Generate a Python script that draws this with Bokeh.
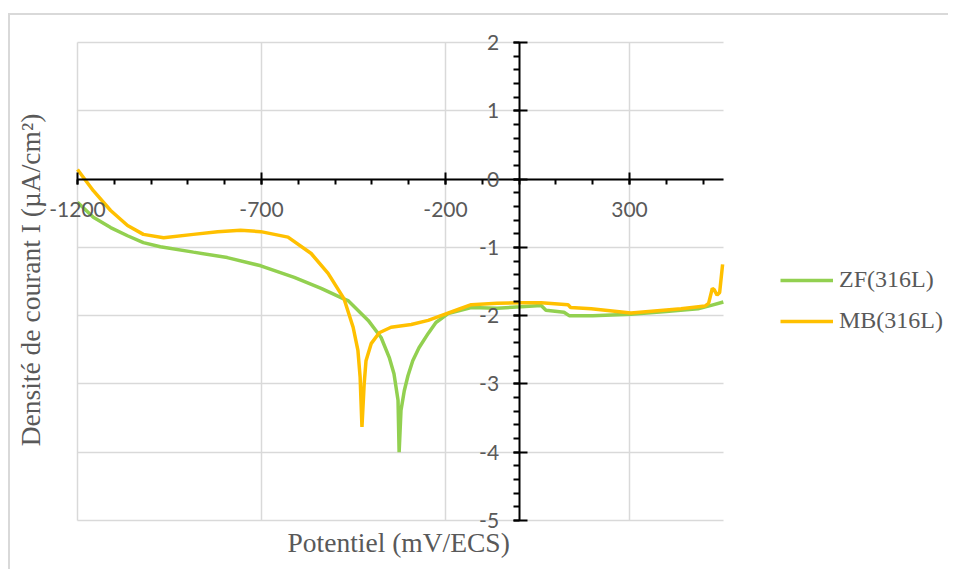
import numpy as np
from bokeh.plotting import figure
from bokeh.models import FixedTicker, Legend, LegendItem, Title
from bokeh.embed import file_html
from bokeh.resources import INLINE

# ---- data ----
zf_x = [-1200, -1157, -1110, -1064, -1021, -975, -885, -793, -702, -611, -538, -478,
        -465, -410, -375, -353, -340, -329, -326, -321, -312, -302, -289, -272, -247,
        -226, -193, -130, -60, 5, 60, 73, 122, 136, 200, 304, 400, 486, 522, 555]
zf_y = [-0.34, -0.56, -0.71, -0.83, -0.93, -0.99, -1.07, -1.15, -1.27, -1.44, -1.60, -1.75,
        -1.78, -2.07, -2.32, -2.61, -2.85, -3.24, -4.00, -3.39, -3.10, -2.88, -2.66, -2.47, -2.26,
        -2.10, -1.97, -1.88, -1.89, -1.87, -1.85, -1.92, -1.95, -2.00, -2.00, -1.98, -1.94, -1.90, -1.85, -1.80]

mb_x = [-1200, -1157, -1110, -1064, -1021, -966, -885, -819, -757, -702, -628, -565, -519,
        -476, -451, -438, -432, -427, -421, -416, -402, -380, -348, -293, -247, -212, -166,
        -130, -60, 5, 60, 133, 140, 196, 304, 440, 505, 515, 525, 530, 538, 545, 553]
mb_y = [0.14, -0.17, -0.46, -0.68, -0.81, -0.86, -0.81, -0.77, -0.75, -0.77, -0.85, -1.09, -1.38,
        -1.75, -2.17, -2.51, -2.90, -3.63, -3.00, -2.66, -2.41, -2.25, -2.17, -2.13, -2.07, -2.00, -1.91,
        -1.84, -1.82, -1.81, -1.81, -1.84, -1.88, -1.90, -1.96, -1.90, -1.86, -1.82, -1.60, -1.62, -1.70, -1.66, -1.25]

x_min, x_max = -1200, 555
y_min, y_max = -5, 2
x_major = [-1200, -700, -200, 300]
y_major = [-5, -4, -3, -2, -1, 0, 1, 2]
series_names = ["ZF(316L)", "MB(316L)"]
x_title = "Potentiel  (mV/ECS)"
y_title = "Densité de courant I (µA/cm²)"

GRID = "#d9d9d9"
TXT = "#595959"

# pixel scale of the reference plot area
px_per_mv = 552 / 1500.0
px_per_unit = 478 / 7.0
fw, fh = 900, 499
xs = x_min - 32 / px_per_mv
ys = y_min - 9 / px_per_unit
xr = (xs, xs + fw / px_per_mv)
yr = (ys, ys + fh / px_per_unit)

p = figure(frame_width=fw, frame_height=fh, x_range=xr, y_range=yr,
           output_backend="svg", toolbar_location=None,
           min_border_left=35, min_border_right=3, min_border_top=15, min_border_bottom=40,
           styles={"border-top": "2px solid #d9d9d9", "border-left": "2px solid #d9d9d9",
                   "margin-left": "8px", "margin-top": "13px"})
p.outline_line_color = None
p.background_fill_color = "white"
p.border_fill_color = "white"

# axes crossing at zero
p.xaxis.fixed_location = 0
p.yaxis.fixed_location = 0
p.xaxis.bounds = (x_min, x_max)
p.yaxis.bounds = (y_min, y_max)
p.xaxis.ticker = FixedTicker(ticks=x_major, minor_ticks=list(np.arange(-1200, 600, 100)))
p.yaxis.ticker = FixedTicker(ticks=y_major, minor_ticks=list(np.round(np.arange(-5, 2.01, 0.2), 2)))
p.xaxis.major_label_overrides = {float(v): str(v) for v in x_major}
p.yaxis.major_label_overrides = {float(v): str(v) for v in y_major}
for ax in (p.xaxis, p.yaxis):
    ax.axis_line_color = "black"
    ax.axis_line_width = 2
    ax.major_tick_line_color = "black"
    ax.major_tick_line_width = 2
    ax.minor_tick_line_color = "black"
    ax.minor_tick_line_width = 2
    ax.major_label_text_font = "Lato"
    ax.major_label_text_font_size = "21px"
    ax.major_label_text_color = TXT
    ax.minor_tick_in = 0
p.xaxis.major_tick_in = 7
p.xaxis.major_tick_out = 5
p.xaxis.minor_tick_out = 5
p.xaxis.major_label_standoff = 18
p.yaxis.major_tick_in = 8
p.yaxis.major_tick_out = 6
p.yaxis.minor_tick_out = 6
p.yaxis.major_label_standoff = 14
p.yaxis.major_label_orientation = "horizontal"

p.xgrid.grid_line_color = GRID
p.ygrid.grid_line_color = GRID
p.xgrid.grid_line_width = 1.5
p.ygrid.grid_line_width = 1.5
p.xgrid.bounds = (x_min, x_max)
p.ygrid.bounds = (y_min, y_max)
p.xgrid.cross_bounds = (y_min, y_max)
p.ygrid.cross_bounds = (x_min, x_max)

r1 = p.line(zf_x, zf_y, line_color="#92D050", line_width=3.5)
r2 = p.line(mb_x, mb_y, line_color="#FFC000", line_width=3.5)

legend = Legend(items=[LegendItem(label=series_names[0], renderers=[r1]),
                       LegendItem(label=series_names[1], renderers=[r2])],
                location=(735, 195), glyph_width=53, glyph_height=24, label_height=24,
                spacing=14, label_standoff=6, padding=0, margin=0,
                label_text_font="Liberation Serif", label_text_font_size="24px",
                label_text_color=TXT, border_line_color=None, background_fill_alpha=0)
p.add_layout(legend, "center")

p.add_layout(Title(text=y_title, align="center", text_font="Liberation Serif",
                   text_font_size="27.5px", text_font_style="normal", text_color=TXT,
                   standoff=0), "left")
p.add_layout(Title(text=x_title, align="left", offset=242, text_font="Liberation Serif",
                   text_font_size="27.5px", text_font_style="normal", text_color=TXT,
                   standoff=-9), "below")

open("out.html", "w").write(file_html(p, INLINE))
